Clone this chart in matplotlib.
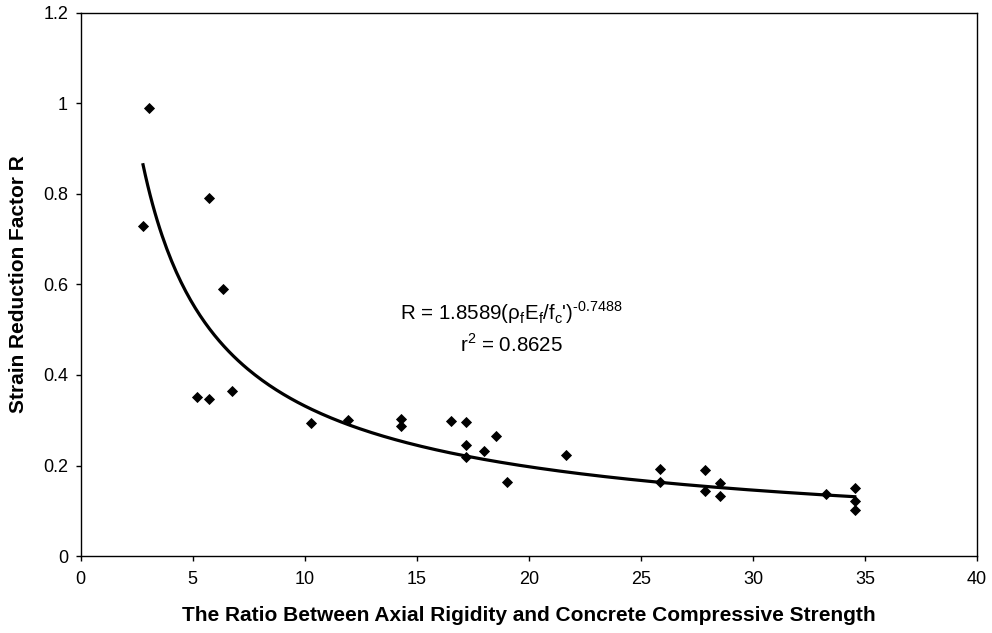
import numpy as np
import matplotlib.pyplot as plt

plt.rcParams["font.family"] = ["Liberation Sans", "DejaVu Sans"]
plt.rcParams["mathtext.fontset"] = "custom"
plt.rcParams["mathtext.rm"] = "Liberation Sans"
plt.rcParams["axes.unicode_minus"] = False

# measured points: axial rigidity ratio vs strain reduction factor
ratio = [3.03, 2.78, 5.72, 6.36, 5.20, 5.72, 6.75, 10.27, 11.94,
         14.29, 14.29, 16.50, 17.19, 17.19, 17.19, 18.55, 17.99, 19.03,
         21.66, 25.85, 25.85, 27.86, 27.86, 28.54, 28.54, 33.26,
         34.54, 34.54, 34.54]
factor = [0.991, 0.729, 0.791, 0.591, 0.352, 0.348, 0.365, 0.293, 0.300,
          0.302, 0.287, 0.299, 0.296, 0.246, 0.218, 0.265, 0.232, 0.164,
          0.223, 0.192, 0.163, 0.190, 0.144, 0.161, 0.132, 0.138,
          0.151, 0.122, 0.102]

# power-law trendline R = a * x^b
coef_a = 1.8589
coef_b = -0.7488
r_squared = 0.8625

fig = plt.figure(figsize=(9.92, 6.33), dpi=100)
ax = fig.add_axes([0.0814, 0.1216, 0.9036, 0.858])

xfit = np.linspace(min(ratio), max(ratio), 300)
ax.plot(xfit, coef_a * xfit ** coef_b, color="black", lw=2.3)
ax.plot(ratio, factor, "D", color="black", markersize=5, mew=0.6, ls="none")

ax.set_xlim(0, 40)
ax.set_ylim(0, 1.2)
ax.set_xticks(range(0, 45, 5))
ax.set_yticks([0, 0.2, 0.4, 0.6, 0.8, 1.0, 1.2])
ax.set_yticklabels(["0", "0.2", "0.4", "0.6", "0.8", "1", "1.2"])
ax.tick_params(labelsize=13, length=3.6, width=1)
ax.tick_params(axis="x", pad=7)
ax.tick_params(axis="y", pad=5.5)
for s in ax.spines.values():
    s.set_linewidth(1.0)

ax.set_xlabel("The Ratio Between Axial Rigidity and Concrete Compressive Strength",
              fontsize=15, fontweight="bold", labelpad=13)
ax.set_ylabel("Strain Reduction Factor R", fontsize=15, fontweight="bold", labelpad=11)

# short hyphen for the exponent sign (mathtext turns "-" into a long minus)
exp_txt = f"{coef_b:.4f}".replace("-", "\u2010")
ax.text(19.24, 0.5215,
        "R = " + f"{coef_a:.4f}" + "(ρ$_\\mathregular{f}$E$_\\mathregular{f}$/f$_\\mathregular{c}$')"
        + "$^\\mathregular{" + exp_txt + "}$",
        ha="center", va="baseline", fontsize=14.8)
ax.text(19.24, 0.4515, "r$^\\mathregular{2}$ = " + f"{r_squared:.4f}",
        ha="center", va="baseline", fontsize=14.8)

fig.savefig("out.png", dpi=100)
